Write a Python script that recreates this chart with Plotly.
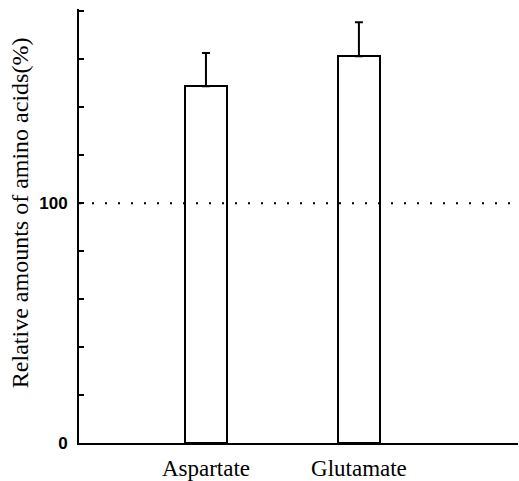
import plotly.graph_objects as go

categories = ["Aspartate", "Glutamate"]
values = [148.8, 161.3]
errors_plus = [13.8, 14.2]
reference_level = 100
y_tick_values = [0, 20, 40, 60, 80, 100, 120, 140, 160, 180]
y_tick_labels = ["0", "", "", "", "", "100", "", "", "", ""]
y_title = "Relative amounts of amino acids(%)"

positions = list(range(len(categories)))

fig = go.Figure()
fig.add_trace(go.Bar(
    x=positions, y=values, width=0.275,
    marker=dict(color="white", line=dict(color="black", width=2)),
    error_y=dict(type="data", array=errors_plus, arrayminus=[0] * len(values),
                 symmetric=False, color="black", thickness=2, width=4),
    showlegend=False,
))

fig.add_shape(type="line", xref="paper", x0=0, x1=1, yref="y",
              y0=reference_level, y1=reference_level,
              line=dict(color="black", width=2, dash="2px,11px"))

fig.add_annotation(text=y_title, textangle=-90, xref="paper", yref="paper",
                   x=-0.134, y=0.53, xanchor="center", yanchor="middle",
                   showarrow=False,
                   font=dict(family="Liberation Serif", size=24, color="black"))

fig.update_layout(
    width=519, height=481,
    margin=dict(l=79, r=1, t=9, b=38),
    plot_bgcolor="white", paper_bgcolor="white",
    bargap=0,
    xaxis=dict(range=[-0.83, 2.04], tickvals=positions, ticktext=categories,
               showline=True, linecolor="black", linewidth=2, ticks="",
               showgrid=False, zeroline=False, ticklabelstandoff=3,
               tickfont=dict(family="Liberation Serif", size=23, color="black")),
    yaxis=dict(range=[0, 181], tickvals=y_tick_values, ticktext=y_tick_labels,
               showline=True, linecolor="black", linewidth=2,
               ticks="inside", ticklen=5, tickwidth=2, tickcolor="black",
               showgrid=False, zeroline=False, ticklabelstandoff=6,
               tickfont=dict(family="Liberation Sans", size=17, color="black",
                             weight="bold")),
)

fig.write_html("out.html")
